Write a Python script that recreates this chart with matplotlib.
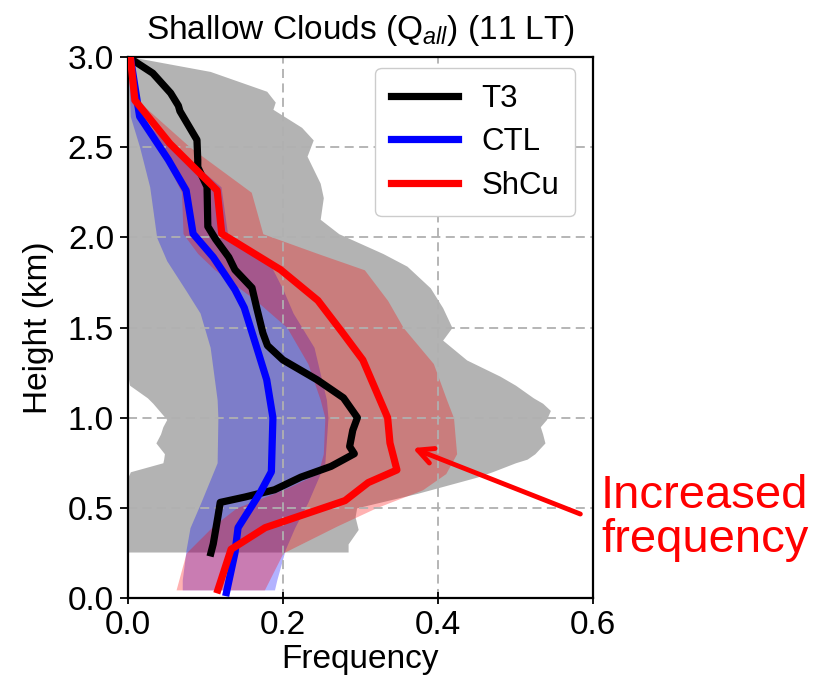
import matplotlib
matplotlib.use("Agg")
import matplotlib.pyplot as plt
import numpy as np

plt.rcParams['font.family'] = ['Liberation Sans', 'DejaVu Sans']
plt.rcParams['mathtext.fontset'] = 'custom'
plt.rcParams['mathtext.rm'] = 'Liberation Sans'
plt.rcParams['mathtext.it'] = 'Liberation Sans:italic'

# ---- data (height in km, frequency) ----
t3_h = [3.00, 2.91, 2.80, 2.73, 2.70, 2.54, 2.43, 2.39, 2.28, 2.06, 1.99, 1.89, 1.82, 1.72, 1.61,
        1.47, 1.40, 1.32, 1.21, 1.11, 1.00, 0.93, 0.84, 0.80, 0.73, 0.67, 0.60, 0.56, 0.53, 0.45,
        0.30, 0.25]
t3_f = [0.000, 0.032, 0.055, 0.065, 0.067, 0.089, 0.090, 0.090, 0.102, 0.103, 0.113, 0.130, 0.138,
        0.160, 0.166, 0.174, 0.180, 0.200, 0.244, 0.278, 0.296, 0.290, 0.286, 0.292, 0.262, 0.223,
        0.189, 0.151, 0.119, 0.116, 0.110, 0.107]

ctl_h = [3.00, 2.67, 2.43, 2.26, 2.02, 1.89, 1.71, 1.61, 1.39, 1.21, 1.00, 0.70, 0.58, 0.39, 0.25, 0.03]
ctl_f = [0.003, 0.015, 0.052, 0.075, 0.084, 0.110, 0.138, 0.150, 0.166, 0.179, 0.187, 0.185, 0.170,
         0.142, 0.138, 0.127]

shcu_h = [3.00, 2.76, 2.52, 2.26, 2.02, 1.82, 1.65, 1.47, 1.32, 1.00, 0.86, 0.71, 0.64, 0.54, 0.39,
          0.27, 0.045]
shcu_f = [0.003, 0.009, 0.054, 0.115, 0.121, 0.197, 0.245, 0.277, 0.303, 0.335, 0.338, 0.347, 0.310,
          0.280, 0.177, 0.133, 0.116]

# T3 spread (gray)
gray_h = [3.00, 2.92, 2.81, 2.75, 2.71, 2.61, 2.54, 2.45, 2.30, 2.22, 2.10, 2.02, 1.91, 1.84, 1.72,
          1.61, 1.50, 1.43, 1.32, 1.23, 1.18, 1.11, 1.08, 1.04, 0.99, 0.95, 0.91, 0.86, 0.80, 0.77,
          0.75, 0.70, 0.67, 0.58, 0.50, 0.45, 0.38, 0.30, 0.255]
gray_lo = [0.0, 0.0, 0.0, 0.0, 0.0, 0.0, 0.0, 0.0, 0.0, 0.0, 0.0, 0.0, 0.0, 0.0, 0.0,
           0.0, 0.0, 0.0, 0.0, 0.0, 0.002, 0.025, 0.032, 0.040, 0.050, 0.045, 0.042, 0.036, 0.047,
           0.046, 0.045, 0.003, 0.0, 0.0, 0.0, 0.0, 0.0, 0.0, 0.0]
gray_hi = [0.005, 0.106, 0.179, 0.190, 0.187, 0.224, 0.239, 0.231, 0.248, 0.252, 0.248, 0.272, 0.329,
           0.360, 0.390, 0.406, 0.418, 0.406, 0.437, 0.480, 0.500, 0.523, 0.535, 0.545, 0.540, 0.532,
           0.535, 0.538, 0.525, 0.515, 0.500, 0.470, 0.450, 0.373, 0.295, 0.293, 0.297, 0.284, 0.284]

# CTL spread (blue)
ctl_band_h = [3.00, 2.67, 2.50, 2.28, 2.00, 1.87, 1.71, 1.58, 1.39, 1.10, 1.00, 0.75, 0.53, 0.39,
              0.27, 0.10, 0.045]
ctl_lo = [0.0, 0.003, 0.015, 0.028, 0.037, 0.050, 0.074, 0.093, 0.106, 0.115, 0.116, 0.115, 0.094,
          0.080, 0.075, 0.070, 0.070]
ctl_hi = [0.0, 0.012, 0.060, 0.120, 0.129, 0.181, 0.200, 0.213, 0.240, 0.256, 0.258, 0.254, 0.232,
          0.215, 0.203, 0.192, 0.189]

# ShCu spread (red)
shcu_band_h = [3.00, 2.76, 2.50, 2.25, 2.02, 1.91, 1.82, 1.65, 1.50, 1.30, 1.10, 1.00, 0.80, 0.69,
               0.60, 0.50, 0.40, 0.25, 0.045]
shcu_lo = [0.0, 0.003, 0.040, 0.069, 0.071, 0.090, 0.112, 0.165, 0.205, 0.232, 0.248, 0.254, 0.252,
           0.245, 0.200, 0.140, 0.110, 0.075, 0.062]
shcu_hi = [0.0, 0.012, 0.080, 0.159, 0.174, 0.245, 0.305, 0.335, 0.355, 0.394, 0.411, 0.420, 0.424,
           0.410, 0.380, 0.320, 0.270, 0.200, 0.176]

labels = ['T3', 'CTL', 'ShCu']

FS = 24

fig = plt.figure(figsize=(8.15, 6.94), dpi=100)
ax = fig.add_axes([128/815, 1-598/694, (593-128)/815, (598-57)/694])

ax.fill_betweenx(gray_h, gray_lo, gray_hi, color='#b3b3b3', lw=0, zorder=1)
ax.fill_betweenx(ctl_band_h, ctl_lo, ctl_hi, color='blue', alpha=0.3, lw=0, zorder=1)
ax.fill_betweenx(shcu_band_h, shcu_lo, shcu_hi, color='red', alpha=0.3, lw=0, zorder=1)

ax.plot(t3_f, t3_h, color='black', lw=5.2, label=labels[0], zorder=3, solid_joinstyle='round')
ax.plot(ctl_f, ctl_h, color='blue', lw=5.2, label=labels[1], zorder=3)
ax.plot(shcu_f, shcu_h, color='red', lw=5.2, label=labels[2], zorder=3)

ax.set_xlim(0, 0.6)
ax.set_ylim(0, 3.0)
ax.set_xticks([0.0, 0.2, 0.4, 0.6])
ax.set_yticks([0.0, 0.5, 1.0, 1.5, 2.0, 2.5, 3.0])
ax.xaxis.set_major_formatter(matplotlib.ticker.FormatStrFormatter('%.1f'))
ax.yaxis.set_major_formatter(matplotlib.ticker.FormatStrFormatter('%.1f'))
ax.set_axisbelow('line')
ax.grid(True, ls='--', color='#b0b0b0', lw=1.3, dashes=(5, 3))
ax.tick_params(labelsize=FS, width=1.3)
ax.tick_params(axis='x', direction='inout', length=9, pad=4)
ax.tick_params(axis='y', length=6, pad=4)
for s in ax.spines.values():
    s.set_linewidth(1.6)

ax.set_xlabel('Frequency', fontsize=FS, labelpad=2)
ax.set_ylabel('Height (km)', fontsize=FS, labelpad=10)
ax.set_title('Shallow Clouds (Q$_{all}$) (11 LT)', fontsize=FS, pad=13)

leg = ax.legend(loc='upper right', bbox_to_anchor=((575-128)/465, (598-68)/541),
                borderaxespad=0, fontsize=22.5, handlelength=2.15, labelspacing=0.43,
                handletextpad=0.75, borderpad=0.5, framealpha=1, edgecolor='#cccccc')
for ln in leg.get_lines():
    ln.set_linewidth(5.2)

ax.annotate('', xy=(0.364, 0.837), xytext=(0.587, 0.46), xycoords='data',
            annotation_clip=False,
            arrowprops=dict(arrowstyle='->', color='red', lw=3.5, mutation_scale=28))

fig.text(601/815, 1-518/694, 'Increased\nfrequency', color='red', fontsize=34,
         ha='left', va='center', linespacing=1.0)

fig.savefig('out.png', dpi=100)
